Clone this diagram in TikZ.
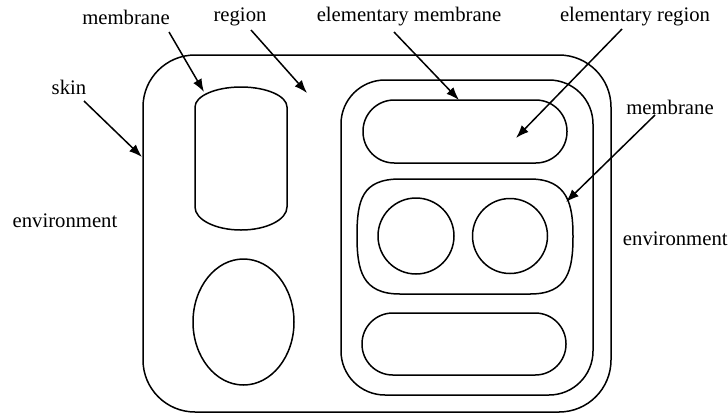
\documentclass[tikz,border=0pt]{standalone}
\usepackage{fontspec}
\setmainfont{Liberation Serif}
\usetikzlibrary{arrows.meta}
\begin{document}
\begin{tikzpicture}[x=0.5pt,y=-0.5pt,
  shape line/.style={line width=0.75pt},
  lbl/.style={font=\fontsize{10.35}{12}\selectfont, inner sep=0pt},
  pointer/.style={line width=0.75pt, -{Latex[length=6.5pt,width=4.8pt]}}]
\useasboundingbox (0,0) rectangle (728,414);
% skin
\draw[shape line, rounded corners=26pt] (143,55) rectangle (611,412);
% right membrane
\draw[shape line, rounded corners=22pt] (341,80) rectangle (593,395);
% elementary pills
\draw[shape line, rounded corners=15.6pt] (363,100) rectangle (567,163);
\draw[shape line, rounded corners=15.4pt] (362,313) rectangle (566,375);
% middle membrane
\draw[shape line] (357,236) .. controls (357,200) and (362,179) .. (400,179)
  -- (530,179) .. controls (568,179) and (573,205) .. (573,236)
  .. controls (573,270) and (568,294) .. (530,294)
  -- (400,294) .. controls (362,294) and (357,270) .. (357,236) -- cycle;
\draw[shape line] (416,236) circle[radius=38];
\draw[shape line] (510,236) circle[radius=37.5];
% left capsule
\draw[shape line] (195,107) arc[start angle=180, end angle=360, x radius=46, y radius=20]
  -- (287,207) arc[start angle=0, end angle=180, x radius=46, y radius=23] -- cycle;
% ellipse
\draw[shape line] (243.5,322) ellipse[x radius=50.5, y radius=63];
% labels
\node[lbl] (tmem) at (126,17) {membrane};
\node[lbl] (treg) at (240,17) {region};
\node[lbl] (telm) at (409,17) {elementary membrane};
\node[lbl] (tela) at (635,17) {elementary region};
\node[lbl] (tskin) at (69,87) {skin};
\node[lbl] (tmem2) at (670,107) {membrane};
\node[lbl] (tenvl) at (65,221) {environment};
\node[lbl, anchor=east] (tenvr) at (728,239) {environment};
% arrow coordinates
\coordinate (a1s) at (169,32); \coordinate (a1e) at (204,92);
\coordinate (a2s) at (251,30); \coordinate (a2e) at (307,93);
\coordinate (a3s) at (84,101); \coordinate (a3e) at (142,157);
\coordinate (a4s) at (394,32); \coordinate (a4e) at (459,100);
\coordinate (a5s) at (622,29); \coordinate (a5e) at (516,138);
\coordinate (a6s) at (655,115); \coordinate (a6e) at (566,202);
\draw[pointer] (a1s) -- (a1e);
\draw[pointer] (a2s) -- (a2e);
\draw[pointer] (a3s) -- (a3e);
\draw[pointer] (a4s) -- (a4e);
\draw[pointer] (a5s) -- (a5e);
\draw[pointer] (a6s) -- (a6e);
\end{tikzpicture}
\end{document}
